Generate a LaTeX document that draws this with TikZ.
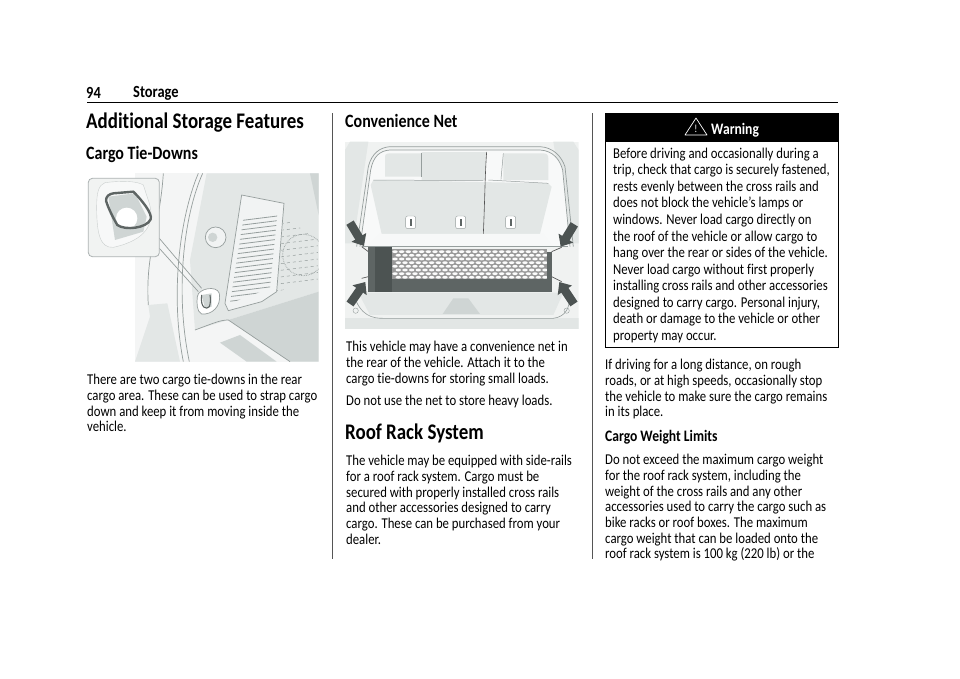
\documentclass[tikz,border=0pt]{standalone}
\usepackage{fontspec}
\setmainfont{Carlito}[FakeStretch=0.85, Ligatures=NoCommon]
\usetikzlibrary{arrows.meta}

\definecolor{rulegray}{HTML}{555555}
\definecolor{panel}{HTML}{E3E7E6}
\definecolor{panelb}{HTML}{CFD5D4}
\definecolor{linegray}{HTML}{969E9D}
\definecolor{strap}{HTML}{5E6564}
\definecolor{strapd}{HTML}{4C5352}

\tikzset{
    bodytext/.style = {font = {\fontsize{15}{15.7}\selectfont}, black, anchor = north west, inner sep = 0pt, align = left},
    boxtext/.style = {font = {\fontsize{15}{16.55}\selectfont}, black, anchor = north west, inner sep = 0pt, align = left},
    headbig/.style = {font = {\fontsize{22.3}{24}\selectfont\bfseries}, black, anchor = west, inner sep = 0pt},
    headmid/.style = {font = {\fontsize{18.8}{20}\selectfont\bfseries}, black, anchor = west, inner sep = 0pt},
    headsmall/.style = {font = {\fontsize{16}{18}\selectfont\bfseries}, black, anchor = west, inner sep = 0pt},
    headpage/.style = {font = {\fontsize{17}{18}\selectfont\bfseries}, black, anchor = west, inner sep = 0pt},
    sealline/.style = {draw = linegray, line width = 0.7pt},
    netarrow/.style = {draw = strapd, line width = 8.5pt, -{Triangle[width = 16.5pt, length = 10pt]}}
}

\begin{document}
\begin{tikzpicture}[x = 1pt, y = -1pt]
    \useasboundingbox (0, 0) rectangle (960, 678);

    % page furniture
    \node[headpage] (pagenum) at (86, 93) {94};
    \node[headpage] (pagetitle) at (133, 93) {Storage};
    \draw[black, line width = 0.9pt] (87, 102.5) -- (838, 102.5);
    \draw[rulegray, line width = 1pt] (332, 113) -- (332, 559);
    \draw[rulegray, line width = 1pt] (592, 113) -- (592, 559);

    % left column
    \node[headbig] (addtitle) at (86, 123) {Additional Storage Features};
    \node[headmid] (tietitle) at (86, 154) {Cargo Tie-Downs};

    % tie-down picture, coordinates in thirds of a pixel
    \begin{scope}[shift = {(80, 160)}, x = 0.3333pt, y = -0.3333pt]
        \begin{scope}
            \clip (165, 40) rectangle (716, 605);
            \fill[white!60!panel] (165, 40) rectangle (716, 605);
            \fill[panel] (380, 40) -- (716, 40) -- (716, 395) -- (445, 480) -- (345, 510) -- (330, 300) -- cycle;
            \fill[panelb] (690, 40) -- (716, 40) -- (716, 165) -- cycle;
            \fill[panelb] (445, 480) -- (716, 395) -- (716, 605) -- (630, 605) -- cycle;
            \fill[panelb] (420, 548) -- (480, 525) -- (590, 605) -- (500, 605) -- cycle;
            \fill[panel] (165, 605) -- (210, 470) -- (205, 435) -- (262, 430) -- (300, 605) -- cycle;
            \draw[sealline] (355, 40) .. controls (300, 170) and (270, 400) .. (310, 605);
            \draw[sealline] (368, 40) .. controls (310, 170) and (285, 400) .. (328, 605);
            \draw[sealline] (250, 40) .. controls (240, 200) and (195, 280) .. (205, 435);
            \draw[sealline] (345, 510) .. controls (400, 490) and (420, 480) .. (445, 480) -- (630, 605);
            % speaker panel
            \fill[white!50!panel] (485, 105) -- (612, 130) -- (590, 395) -- (545, 425) -- (445, 452) -- (435, 430) -- cycle;
            \draw[sealline] (485, 105) -- (612, 130) -- (590, 395) -- (545, 425) -- (445, 452) -- (435, 430) -- cycle;
            \begin{scope}
                \clip (490, 175) -- (592, 165) -- (570, 385) -- (450, 430) -- cycle;
                \foreach \gy in {175, 189, ..., 430} {
                    \draw[linegray, line width = 0.8pt] (440, \gy + 12) -- (600, \gy - 8);
                }
            \end{scope}
            \begin{scope}
                \clip (612, 172) -- (716, 240) -- (716, 360) -- (590, 395) -- cycle;
                \foreach \gy in {185, 205, ..., 405} {
                    \draw[linegray, line width = 0.5pt, dashed] (585, \gy + 8) -- (716, \gy - 8);
                }
            \end{scope}
            \draw[linegray, densely dotted, line width = 0.7pt] (670, 285) circle (62);
            % bolt
            \fill[white!50!panel] (407, 232) circle (31);
            \draw[sealline] (407, 232) circle (31);
            \fill[panelb] (398, 232) circle (14);
            % hook in the wall
            \draw[sealline, fill = white] (352, 410) .. controls (355, 385) and (410, 375) .. (418, 400) .. controls (425, 440) and (395, 465) .. (365, 462) .. controls (350, 455) and (350, 430) .. cycle;
            \fill[panelb] (365, 405) -- (395, 400) -- (395, 440) -- (375, 445) -- cycle;
            \draw[strap, line width = 1.1pt] (365, 405) .. controls (360, 445) and (380, 450) .. (388, 440) .. controls (392, 430) and (392, 415) .. (390, 405);
        \end{scope}
        % inset
        \draw[linegray, line width = 0.7pt] (238, 235) -- (365, 385);
        \draw[linegray, line width = 0.7pt] (238, 265) -- (355, 395);
        \draw[linegray!80!white, line width = 0.8pt, fill = white!50!panel, rounded corners = 4pt] (25, 55) rectangle (238, 290);
        \draw[linegray!50!white, fill = white!70!panel] (75, 68) .. controls (120, 62) and (170, 62) .. (190, 75) -- (208, 130) .. controls (225, 190) and (200, 240) .. (100, 262) .. controls (60, 265) and (50, 220) .. (50, 140) .. controls (50, 100) and (55, 75) .. cycle;
        \fill[panelb] (85, 110) -- (165, 100) -- (200, 170) -- (190, 215) -- (105, 240) -- cycle;
        \fill[white] (140, 175) circle (32);
        \draw[strap, line width = 2.4pt, line join = round] (78, 122) .. controls (78, 108) and (88, 102) .. (100, 100) -- (160, 95) .. controls (185, 120) and (218, 160) .. (212, 178) .. controls (200, 205) and (135, 212) .. (112, 195) .. controls (100, 175) and (85, 145) .. (78, 122);
    \end{scope}

    \node[bodytext] (tietext) at (87, 374) {There are two cargo tie-downs in the rear\\cargo area. These can be used to strap cargo\\down and keep it from moving inside the\\vehicle.};

    % middle column
    \node[headmid] (nettitle) at (345, 121) {Convenience Net};

    % net picture, coordinates in thirds of a pixel
    \begin{scope}[shift = {(340, 130)}, x = 0.3333pt, y = -0.3333pt]
        \begin{scope}
            \clip (15, 35) rectangle (716, 596);
            \fill[white!45!panel] (15, 35) rectangle (716, 596);
            \fill[panel] (30, 35) -- (85, 35) -- (40, 340) -- (15, 340) -- (15, 60) -- cycle;
            \fill[panel] (700, 35) -- (640, 35) -- (690, 340) -- (716, 340) -- (716, 60) -- cycle;
            \fill[panelb!60!white] (15, 565) rectangle (716, 596);
            \fill[white!75!panel] (60, 350) -- (90, 120) .. controls (100, 75) and (120, 62) .. (150, 60) -- (600, 60) .. controls (640, 62) and (660, 90) .. (668, 120) -- (690, 350) -- cycle;
            \draw[sealline] (50, 350) -- (85, 110) .. controls (95, 70) and (120, 52) .. (150, 50) -- (600, 50) .. controls (640, 52) and (665, 80) .. (675, 110) -- (700, 350);
            \draw[sealline] (60, 350) -- (92, 120) .. controls (100, 78) and (120, 62) .. (150, 60) -- (600, 60) .. controls (640, 62) and (660, 90) .. (668, 120) -- (690, 350);
            % headrests and seat backs
            \fill[panel] (135, 80) .. controls (135, 70) and (145, 70) .. (155, 70) -- (245, 70) -- (245, 140) -- (135, 140) -- cycle;
            \fill[panel] (245, 66) -- (440, 66) -- (435, 150) -- (245, 150) -- cycle;
            \fill[panel] (490, 70) -- (610, 70) .. controls (620, 70) and (625, 75) .. (625, 85) -- (625, 150) -- (490, 150) -- cycle;
            \fill[panel] (100, 150) -- (625, 160) -- (635, 170) -- (600, 312) -- (125, 312) -- (92, 165) -- cycle;
            \draw[linegray, line width = 0.5pt] (100, 150) -- (430, 152);
            \draw[linegray, line width = 0.5pt] (445, 150) -- (625, 160);
            \draw[rulegray, line width = 0.6pt] (440, 66) .. controls (435, 130) and (435, 200) .. (430, 312);
            \draw[linegray, line width = 0.5pt] (245, 70) -- (245, 140);
            \draw[linegray, line width = 0.5pt] (490, 70) -- (483, 148);
            % seat latches
            \foreach \lx in {197, 347, 497} {
                \draw[linegray, fill = white, rounded corners = 2pt] (\lx, 258) rectangle (\lx + 30, 296);
                \fill[strap] (\lx + 12, 268) rectangle (\lx + 18, 288);
            }
            % floor
            \fill[white!70!panel] (120, 312) -- (610, 312) -- (640, 352) -- (80, 352) -- cycle;
            \draw[linegray, line width = 0.6pt] (65, 350) -- (685, 350);
            \fill[panel] (55, 488) -- (670, 488) -- (640, 555) -- (90, 555) -- cycle;
            \draw[linegray, line width = 0.6pt] (40, 490) .. controls (60, 560) and (100, 565) .. (130, 565) -- (640, 565) .. controls (680, 560) and (690, 530) .. (690, 490);
            \fill[panelb] (308, 552) -- (340, 505) -- (385, 505) -- (420, 552) -- cycle;
            \draw[linegray] (47, 542) circle (8);
            \draw[linegray] (680, 542) circle (8);
            % net straps
            \draw[rulegray, line width = 0.7pt] (65, 350) -- (85, 365);
            \draw[rulegray, line width = 0.7pt] (65, 445) -- (85, 440);
            \draw[rulegray, line width = 0.7pt] (635, 365) -- (665, 352);
            \draw[rulegray, line width = 0.7pt] (635, 440) -- (665, 455);
        \end{scope}
        % net
        \fill[gray!80!white] (155, 358) rectangle (622, 447);
        \foreach \ry in {0, 1, ..., 7} {
            \pgfmathsetmacro{\roff}{mod(\ry, 2) * 10}
            \foreach \rx in {0, 20, ..., 440} {
                \fill[white!85!panel] (165 + \rx + \roff, 365 + \ry * 11) ellipse (8.2 and 4.2);
            }
        }
        \fill[strap] (85, 352) rectangle (155, 485);
        \fill[strapd] (105, 352) rectangle (155, 485);
        \fill[strap] (155, 447) rectangle (635, 485);
        \fill[strap] (622, 365) rectangle (635, 485);
        % arrows
        \coordinate (tailtl) at (30, 278);
        \coordinate (tiptl) at (72, 348);
        \coordinate (tailtr) at (703, 283);
        \coordinate (tiptr) at (662, 350);
        \coordinate (tailbl) at (30, 522);
        \coordinate (tipbl) at (76, 456);
        \coordinate (tailbr) at (702, 522);
        \coordinate (tipbr) at (658, 456);
        \draw[netarrow] (tailtl) -- (tiptl);
        \draw[netarrow] (tailtr) -- (tiptr);
        \draw[netarrow] (tailbl) -- (tipbl);
        \draw[netarrow] (tailbr) -- (tipbr);
    \end{scope}

    \node[bodytext] (nettext) at (346, 341) {This vehicle may have a convenience net in\\the rear of the vehicle. Attach it to the\\cargo tie-downs for storing small loads.};
    \node[bodytext] (nettexttwo) at (346, 395) {Do not use the net to store heavy loads.};
    \node[headbig] (rooftitle) at (345, 433.5) {Roof Rack System};
    \node[bodytext] (rooftext) at (346, 455) {The vehicle may be equipped with side-rails\\for a roof rack system. Cargo must be\\secured with properly installed cross rails\\and other accessories designed to carry\\cargo. These can be purchased from your\\dealer.};

    % warning box
    \draw[black, fill = white, line width = 1pt] (605, 113) rectangle (838.5, 347.5);
    \fill[black] (605, 113) rectangle (838.5, 142);
    \draw[white, line width = 0.7pt, line join = round] (685, 135) -- (707, 135) -- (696, 118) -- cycle;
    \node[font = {\fontsize{11}{12}\selectfont}, white, inner sep = 0pt] (warnmark) at (696, 129) {!};
    \node[headsmall, white] (warntitle) at (711, 130) {Warning};
    \node[boxtext] (warntext) at (613, 147.7) {Before driving and occasionally during a\\trip, check that cargo is securely fastened,\\rests evenly between the cross rails and\\does not block the vehicle\symbol{39}s lamps or\\windows. Never load cargo directly on\\the roof of the vehicle or allow cargo to\\hang over the rear or sides of the vehicle.\\Never load cargo without first properly\\installing cross rails and other accessories\\designed to carry cargo. Personal injury,\\death or damage to the vehicle or other\\property may occur.};

    % right column
    \node[bodytext] (drivetext) at (605, 359) {If driving for a long distance, on rough\\roads, or at high speeds, occasionally stop\\the vehicle to make sure the cargo remains\\in its place.};
    \node[headsmall] (limittitle) at (605, 437) {Cargo Weight Limits};
    \node[bodytext] (limittext) at (605, 454) {Do not exceed the maximum cargo weight\\for the roof rack system, including the\\weight of the cross rails and any other\\accessories used to carry the cargo such as\\bike racks or roof boxes. The maximum\\cargo weight that can be loaded onto the\\roof rack system is 100 kg (220 lb) or the};
\end{tikzpicture}
\end{document}
